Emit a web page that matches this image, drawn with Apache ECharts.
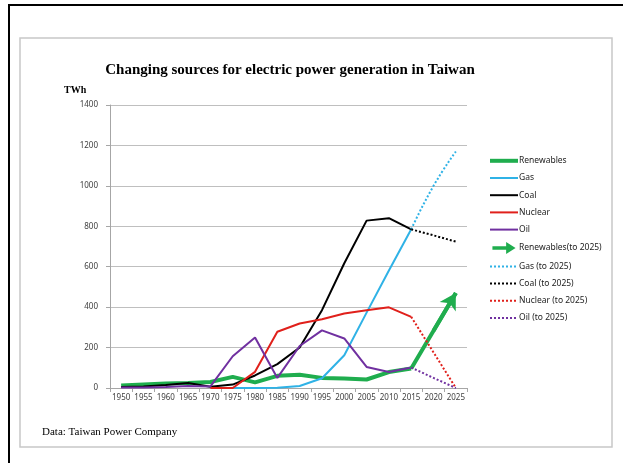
<!DOCTYPE html>
<html>
<head>
<meta charset="utf-8">
<script src="https://cdn.jsdelivr.net/npm/echarts@6/dist/echarts.min.js"></script>
<style>
html,body{margin:0;padding:0;background:#fff;}
#c{width:623px;height:466px;}
</style>
</head>
<body>
<div id="c"></div>
<script>
var years = ['1950','1955','1960','1965','1970','1975','1980','1985','1990','1995','2000','2005','2010','2015','2020','2025'];
var renewables = [12,17,22,25,30,55,28,60,66,50,47,42,79,96,null,null];
var gas = [null,null,null,null,null,0,0,1,10,48,162,373,581,785,null,null];
var coal = [5,8,15,25,6,17,62,118,200,385,617,828,840,785,null,null];
var nuclear = [null,null,null,null,0,0,80,278,319,340,369,385,399,352,null,null];
var oil = [2,3,5,10,8,157,250,50,208,285,245,104,79,101,null,null];
var renewTo2025 = [null,null,null,null,null,null,null,null,null,null,null,null,null,96,283,470];
var gasTo2025 = [null,null,null,null,null,null,null,null,null,null,null,null,null,785,1000,1170];
var coalTo2025 = [null,null,null,null,null,null,null,null,null,null,null,null,null,785,755,724];
var nuclearTo2025 = [null,null,null,null,null,null,null,null,null,null,null,null,null,352,176,0];
var oilTo2025 = [null,null,null,null,null,null,null,null,null,null,null,null,null,101,50,0];

var GREEN = '#1fad4e', BLUE = '#2fb2e6', BLACK = '#000000', RED = '#e0201b', PURPLE = '#7030a0';

var chart = echarts.init(document.getElementById('c'), null, {renderer: 'canvas'});

function ln(name, data, color, width, type, smooth) {
  return {
    name: name, type: 'line', data: data, symbol: 'none', smooth: !!smooth,
    connectNulls: false, silent: true,
    lineStyle: {color: color, width: width, type: type || 'solid'},
    itemStyle: {color: color}
  };
}

var arrowSeries = ln('Renewables(to 2025)', renewTo2025, GREEN, 4);
arrowSeries.markLine = {
  silent: true, symbol: ['none', 'arrow'], symbolSize: [14, 16], label: {show: false},
  lineStyle: {color: GREEN, width: 4, type: 'solid'},
  data: [[{coord: [years[14], renewTo2025[14]]}, {coord: [years[15], renewTo2025[15]]}]]
};

var w2 = {width: 2};
var option = {
  animation: false,
  backgroundColor: '#ffffff',
  graphic: [
    {type: 'rect', shape: {x: 20, y: 38, width: 592, height: 409}, style: {fill: '#fff', stroke: '#c8c8c8', lineWidth: 1.5}, z: -10},
    {type: 'line', shape: {x1: 8, y1: 5, x2: 623, y2: 5}, style: {stroke: '#000', lineWidth: 2}},
    {type: 'line', shape: {x1: 9, y1: 5, x2: 9, y2: 463}, style: {stroke: '#000', lineWidth: 2}},
    {type: 'text', x: 290, y: 70, style: {text: 'Changing sources for electric power generation in Taiwan', font: 'bold 15px "Liberation Serif"', fill: '#000', align: 'center', verticalAlign: 'middle'}},
    {type: 'text', x: 64, y: 90, style: {text: 'TWh', font: 'bold 10px "Liberation Serif"', fill: '#000', align: 'left', verticalAlign: 'middle'}},
    {type: 'text', x: 42, y: 432, style: {text: 'Data: Taiwan Power Company', font: '11px "Liberation Serif"', fill: '#000', align: 'left', verticalAlign: 'middle'}}
  ],
  grid: {left: 110, top: 105, width: 357, height: 283, containLabel: false},
  legend: {
    orient: 'vertical', left: 483, top: 151, itemWidth: 28, itemHeight: 12, itemGap: 7.6,
    textStyle: {fontFamily: 'Noto Sans', fontSize: 8.5, color: '#222', padding: [0, 0, 0, -4]},
    itemStyle: {opacity: 0},
    selectedMode: false,
    data: [
      {name: 'Renewables', lineStyle: {width: 4}}, {name: 'Gas', lineStyle: w2}, {name: 'Coal', lineStyle: w2},
      {name: 'Nuclear', lineStyle: w2}, {name: 'Oil', lineStyle: w2},
      {name: 'Renewables(to 2025)', icon: 'path://M0,5 L16,5 L16,0 L27,7 L16,14 L16,9 L0,9 Z', itemStyle: {opacity: 1, color: GREEN}},
      {name: 'Gas (to 2025)', lineStyle: w2}, {name: 'Coal (to 2025)', lineStyle: w2},
      {name: 'Nuclear (to 2025)', lineStyle: w2}, {name: 'Oil (to 2025)', lineStyle: w2}
    ]
  },
  xAxis: {
    type: 'category', data: years, boundaryGap: true,
    axisLine: {lineStyle: {color: '#a6a6a6', width: 1}},
    axisTick: {show: true, length: 4, interval: 0, lineStyle: {color: '#a6a6a6'}},
    axisLabel: {interval: 0, fontFamily: 'Noto Sans', fontSize: 8, color: '#404040', margin: 6}
  },
  yAxis: {
    type: 'value', min: 0, max: 1400, interval: 200,
    axisLine: {show: true, lineStyle: {color: '#a6a6a6', width: 1}},
    axisTick: {show: true, length: 4, lineStyle: {color: '#a6a6a6'}},
    axisLabel: {fontFamily: 'Noto Sans', fontSize: 8, color: '#404040', margin: 12, formatter: function (v) { return String(v); }},
    splitLine: {lineStyle: {color: '#bfbfbf', width: 1}}
  },
  series: [
    ln('Renewables', renewables, GREEN, 4),
    ln('Gas', gas, BLUE, 2),
    ln('Coal', coal, BLACK, 2),
    ln('Nuclear', nuclear, RED, 2),
    ln('Oil', oil, PURPLE, 2),
    arrowSeries,
    ln('Gas (to 2025)', gasTo2025, BLUE, 2, 'dotted', true),
    ln('Coal (to 2025)', coalTo2025, BLACK, 2, 'dotted'),
    ln('Nuclear (to 2025)', nuclearTo2025, RED, 2, 'dotted'),
    ln('Oil (to 2025)', oilTo2025, PURPLE, 2, 'dotted')
  ]
};
chart.setOption(option);
</script>
</body>
</html>
